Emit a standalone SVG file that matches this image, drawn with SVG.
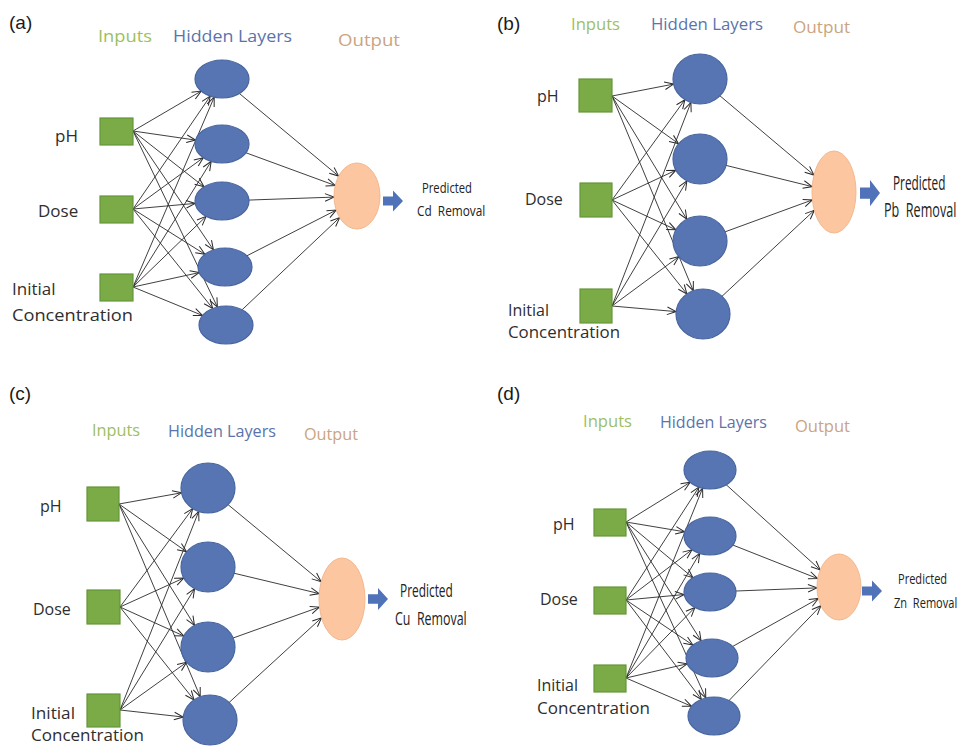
<svg xmlns="http://www.w3.org/2000/svg" width="960" height="746" viewBox="0 0 960 746">
  <defs>
    <style>
      .tag { font-family: "Liberation Sans", Arial, sans-serif; font-size: 19px; fill: #1a1a1a; }
      .hd { font-family: "Open Sans", "Noto Sans", sans-serif; }
      .h-in { fill: #9dbf5f; }
      .h-hid { fill: #5a74ab; }
      .h-out { fill: #caa480; }
      .lbl { font-family: "Open Sans", "Noto Sans", sans-serif; fill: #2e2e2e; }
      .res { font-family: "Open Sans", "Noto Sans", sans-serif; fill: #222222; }
      .inp { fill: #7aab47; stroke: #65963a; stroke-width: 1.2; }
      .hid { fill: #5775b3; stroke: #48659f; stroke-width: 1.2; }
      .out { fill: #fbc6a0; stroke: #f3b88e; stroke-width: 1; }
      .cn line { stroke: #2a2a2a; stroke-width: 0.9; marker-end: url(#tip); }
      .blk { fill: #4f72b8; }
    </style>
    <marker id="tip" markerUnits="userSpaceOnUse" markerWidth="12" markerHeight="10" viewBox="0 0 12 10" refX="10" refY="5" orient="auto">
      <path d="M1,1.2 L10,5 L1,8.8" fill="none" stroke="#2a2a2a" stroke-width="1"/>
    </marker>
    <path id="blockArrow" d="M0,-4.5 H10 V-10.5 L20,0 L10,10.5 V4.5 H0 Z"/>
  </defs>

  <rect width="960" height="746" fill="#ffffff"/>

  <!-- ===== (a) Cd removal: 3 inputs, 5 hidden ===== -->
  <g id="panel-a">
    <text class="tag" x="9" y="29">(a)</text>
    <text class="hd h-in" x="98" y="42" font-size="17" textLength="54" lengthAdjust="spacingAndGlyphs">Inputs</text>
    <text class="hd h-hid" x="173" y="42" font-size="17" textLength="119" lengthAdjust="spacingAndGlyphs">Hidden Layers</text>
    <text class="hd h-out" x="338" y="46" font-size="17" textLength="62" lengthAdjust="spacingAndGlyphs">Output</text>

    <g id="a-connectors" class="cn">
      <line x1="133" y1="131" x2="201.2" y2="91.1"/>
      <line x1="133" y1="131" x2="195.6" y2="140.1"/>
      <line x1="133" y1="131" x2="204.0" y2="186.8"/>
      <line x1="133" y1="131" x2="213.4" y2="249.8"/>
      <line x1="133" y1="131" x2="217.4" y2="307.0"/>
      <line x1="133" y1="209" x2="210.3" y2="96.1"/>
      <line x1="133" y1="209" x2="203.3" y2="157.7"/>
      <line x1="133" y1="209" x2="195.2" y2="203.4"/>
      <line x1="133" y1="209" x2="204.9" y2="254.3"/>
      <line x1="133" y1="209" x2="212.7" y2="308.4"/>
      <line x1="133" y1="287" x2="214.2" y2="97.2"/>
      <line x1="133" y1="287" x2="211.2" y2="161.4"/>
      <line x1="133" y1="287" x2="206.1" y2="216.4"/>
      <line x1="133" y1="287" x2="199.2" y2="272.6"/>
      <line x1="133" y1="287" x2="202.6" y2="315.5"/>
      <line x1="222" y1="79" x2="338.6" y2="176.1"/>
      <line x1="222" y1="144" x2="335.2" y2="185.5"/>
      <line x1="222" y1="201" x2="334.0" y2="197.1"/>
      <line x1="225" y1="267" x2="336.2" y2="210.1"/>
      <line x1="226" y1="325" x2="339.6" y2="217.6"/>
    </g>

    <g id="a-in-ph"><rect class="inp" x="100" y="118" width="33" height="27"/><text class="lbl" x="55" y="142" font-size="17">pH</text></g>
    <g id="a-in-dose"><rect class="inp" x="100" y="196" width="33" height="27"/><text class="lbl" x="38" y="217" font-size="17">Dose</text></g>
    <g id="a-in-conc"><rect class="inp" x="100" y="274" width="33" height="27"/><text class="lbl" x="12" y="295" font-size="17">Initial</text><text class="lbl" x="12" y="321" font-size="17" textLength="121" lengthAdjust="spacingAndGlyphs">Concentration</text></g>
    <g id="a-h1"><ellipse class="hid" cx="222" cy="79" rx="27" ry="19"/></g>
    <g id="a-h2"><ellipse class="hid" cx="222" cy="144" rx="27" ry="19"/></g>
    <g id="a-h3"><ellipse class="hid" cx="222" cy="201" rx="27" ry="19"/></g>
    <g id="a-h4"><ellipse class="hid" cx="225" cy="267" rx="27" ry="19"/></g>
    <g id="a-h5"><ellipse class="hid" cx="226" cy="325" rx="27" ry="19"/></g>
    <g id="a-out"><ellipse class="out" cx="357" cy="196" rx="23" ry="33"/></g>
    <g id="a-result">
      <use href="#blockArrow" class="blk" transform="translate(383,201)"/>
      <text class="res" font-size="15" transform="translate(422,193) scale(0.75,1)">Predicted</text>
      <text class="res" font-size="15" transform="translate(417,216) scale(0.79,1)">Cd&#160; Removal</text>
    </g>
  </g>

  <!-- ===== (b) Pb removal: 3 inputs, 4 hidden ===== -->
  <g id="panel-b">
    <text class="tag" x="497" y="30">(b)</text>
    <text class="hd h-in" x="571" y="30" font-size="16" textLength="49" lengthAdjust="spacingAndGlyphs">Inputs</text>
    <text class="hd h-hid" x="651" y="30" font-size="16" textLength="112" lengthAdjust="spacingAndGlyphs">Hidden Layers</text>
    <text class="hd h-out" x="793" y="33" font-size="16" textLength="57" lengthAdjust="spacingAndGlyphs">Output</text>

    <g id="b-connectors" class="cn">
      <line x1="612" y1="96" x2="673.6" y2="84.1"/>
      <line x1="612" y1="96" x2="678.6" y2="143.7"/>
      <line x1="612" y1="96" x2="686.8" y2="219.2"/>
      <line x1="612" y1="96" x2="693.3" y2="290.7"/>
      <line x1="612" y1="200" x2="684.9" y2="99.7"/>
      <line x1="612" y1="200" x2="675.9" y2="170.2"/>
      <line x1="612" y1="200" x2="675.9" y2="229.8"/>
      <line x1="612" y1="200" x2="686.9" y2="293.9"/>
      <line x1="612" y1="306" x2="690.9" y2="102.5"/>
      <line x1="612" y1="306" x2="686.9" y2="180.9"/>
      <line x1="612" y1="306" x2="678.9" y2="256.6"/>
      <line x1="612" y1="306" x2="676.1" y2="311.6"/>
      <line x1="700" y1="79" x2="814.0" y2="175.1"/>
      <line x1="700" y1="159" x2="812.2" y2="186.6"/>
      <line x1="700" y1="241" x2="812.4" y2="199.9"/>
      <line x1="703" y1="314" x2="814.3" y2="210.3"/>
    </g>

    <g id="b-in-ph"><rect class="inp" x="579" y="79" width="33" height="33"/><text class="lbl" x="537" y="102" font-size="16">pH</text></g>
    <g id="b-in-dose"><rect class="inp" x="580" y="183" width="32" height="34"/><text class="lbl" x="525" y="205" font-size="16">Dose</text></g>
    <g id="b-in-conc"><rect class="inp" x="580" y="289" width="32" height="34"/><text class="lbl" x="508" y="316" font-size="16">Initial</text><text class="lbl" x="508" y="338" font-size="16" textLength="112" lengthAdjust="spacingAndGlyphs">Concentration</text></g>
    <g id="b-h1"><ellipse class="hid" cx="700" cy="79" rx="27" ry="25"/></g>
    <g id="b-h2"><ellipse class="hid" cx="700" cy="159" rx="27" ry="25"/></g>
    <g id="b-h3"><ellipse class="hid" cx="700" cy="241" rx="27" ry="25"/></g>
    <g id="b-h4"><ellipse class="hid" cx="703" cy="314" rx="27" ry="25"/></g>
    <g id="b-out"><ellipse class="out" cx="834" cy="192" rx="22" ry="41"/></g>
    <g id="b-result">
      <use href="#blockArrow" class="blk" transform="translate(860,193) scale(1,1.25)"/>
      <text class="res" font-size="20" transform="translate(893,190) scale(0.59,1)">Predicted</text>
      <text class="res" font-size="20" transform="translate(884,217) scale(0.63,1)">Pb&#160; Removal</text>
    </g>
  </g>

  <!-- ===== (c) Cu removal: 3 inputs, 4 hidden ===== -->
  <g id="panel-c">
    <text class="tag" x="9" y="400">(c)</text>
    <text class="hd h-in" x="92" y="436" font-size="16" textLength="48" lengthAdjust="spacingAndGlyphs">Inputs</text>
    <text class="hd h-hid" x="168" y="437" font-size="16" textLength="108" lengthAdjust="spacingAndGlyphs">Hidden Layers</text>
    <text class="hd h-out" x="304" y="440" font-size="16" textLength="54" lengthAdjust="spacingAndGlyphs">Output</text>

    <g id="c-connectors" class="cn">
      <line x1="119" y1="504" x2="181.5" y2="492.8"/>
      <line x1="119" y1="504" x2="186.6" y2="551.8"/>
      <line x1="119" y1="504" x2="194.5" y2="625.3"/>
      <line x1="119" y1="504" x2="200.2" y2="696.7"/>
      <line x1="120" y1="607" x2="192.7" y2="508.6"/>
      <line x1="120" y1="607" x2="183.8" y2="578.0"/>
      <line x1="120" y1="607" x2="183.8" y2="636.0"/>
      <line x1="120" y1="607" x2="194.0" y2="699.9"/>
      <line x1="120" y1="710" x2="198.7" y2="511.5"/>
      <line x1="120" y1="710" x2="194.6" y2="588.7"/>
      <line x1="120" y1="710" x2="186.6" y2="662.3"/>
      <line x1="120" y1="710" x2="183.2" y2="717.0"/>
      <line x1="208" y1="488" x2="321.1" y2="581.7"/>
      <line x1="208" y1="567" x2="319.2" y2="593.6"/>
      <line x1="208" y1="647" x2="319.4" y2="607.1"/>
      <line x1="210" y1="720" x2="321.5" y2="617.8"/>
    </g>

    <g id="c-in-ph"><rect class="inp" x="87" y="487" width="32" height="34"/><text class="lbl" x="40" y="512" font-size="16">pH</text></g>
    <g id="c-in-dose"><rect class="inp" x="87" y="590" width="33" height="34"/><text class="lbl" x="33" y="615" font-size="16">Dose</text></g>
    <g id="c-in-conc"><rect class="inp" x="87" y="694" width="33" height="33"/><text class="lbl" x="31" y="719" font-size="15.5" textLength="44" lengthAdjust="spacingAndGlyphs">Initial</text><text class="lbl" x="31" y="741" font-size="15.5" textLength="113" lengthAdjust="spacingAndGlyphs">Concentration</text></g>
    <g id="c-h1"><ellipse class="hid" cx="208" cy="488" rx="27" ry="25"/></g>
    <g id="c-h2"><ellipse class="hid" cx="208" cy="567" rx="27" ry="25"/></g>
    <g id="c-h3"><ellipse class="hid" cx="208" cy="647" rx="27" ry="25"/></g>
    <g id="c-h4"><ellipse class="hid" cx="210" cy="720" rx="27" ry="25"/></g>
    <g id="c-out"><ellipse class="out" cx="342" cy="599" rx="23" ry="41"/></g>
    <g id="c-result">
      <use href="#blockArrow" class="blk" transform="translate(368,599) scale(1,1.05)"/>
      <text class="res" font-size="18" transform="translate(400,597) scale(0.66,1)">Predicted</text>
      <text class="res" font-size="18" transform="translate(395,625) scale(0.69,1)">Cu&#160; Removal</text>
    </g>
  </g>

  <!-- ===== (d) Zn removal: 3 inputs, 5 hidden ===== -->
  <g id="panel-d">
    <text class="tag" x="497" y="400">(d)</text>
    <text class="hd h-in" x="583" y="427" font-size="16" textLength="49" lengthAdjust="spacingAndGlyphs">Inputs</text>
    <text class="hd h-hid" x="660" y="428" font-size="16" textLength="107" lengthAdjust="spacingAndGlyphs">Hidden Layers</text>
    <text class="hd h-out" x="795" y="432" font-size="16" textLength="55" lengthAdjust="spacingAndGlyphs">Output</text>

    <g id="d-connectors" class="cn">
      <line x1="626" y1="522" x2="690.2" y2="482.3"/>
      <line x1="626" y1="522" x2="684.6" y2="531.8"/>
      <line x1="626" y1="522" x2="692.9" y2="577.7"/>
      <line x1="626" y1="522" x2="701.1" y2="640.8"/>
      <line x1="626" y1="522" x2="705.8" y2="698.0"/>
      <line x1="626" y1="600" x2="698.9" y2="487.2"/>
      <line x1="626" y1="600" x2="692.0" y2="549.7"/>
      <line x1="626" y1="600" x2="684.2" y2="594.5"/>
      <line x1="626" y1="600" x2="692.9" y2="645.1"/>
      <line x1="626" y1="600" x2="701.4" y2="699.4"/>
      <line x1="626" y1="678" x2="702.6" y2="488.2"/>
      <line x1="626" y1="678" x2="699.7" y2="553.4"/>
      <line x1="626" y1="678" x2="694.9" y2="607.5"/>
      <line x1="626" y1="678" x2="687.2" y2="663.8"/>
      <line x1="626" y1="678" x2="691.6" y2="706.3"/>
      <line x1="710" y1="470" x2="820.2" y2="569.9"/>
      <line x1="710" y1="536" x2="817.7" y2="578.6"/>
      <line x1="710" y1="592" x2="817.0" y2="587.9"/>
      <line x1="712" y1="658" x2="818.4" y2="598.5"/>
      <line x1="714" y1="716" x2="820.9" y2="605.7"/>
    </g>

    <g id="d-in-ph"><rect class="inp" x="594" y="509" width="32" height="27"/><text class="lbl" x="553" y="530" font-size="16">pH</text></g>
    <g id="d-in-dose"><rect class="inp" x="594" y="587" width="32" height="27"/><text class="lbl" x="540" y="605" font-size="16">Dose</text></g>
    <g id="d-in-conc"><rect class="inp" x="594" y="665" width="32" height="27"/><text class="lbl" x="537" y="691" font-size="16">Initial</text><text class="lbl" x="537" y="714" font-size="16" textLength="113" lengthAdjust="spacingAndGlyphs">Concentration</text></g>
    <g id="d-h1"><ellipse class="hid" cx="710" cy="470" rx="26" ry="19"/></g>
    <g id="d-h2"><ellipse class="hid" cx="710" cy="536" rx="26" ry="19"/></g>
    <g id="d-h3"><ellipse class="hid" cx="710" cy="592" rx="26" ry="19"/></g>
    <g id="d-h4"><ellipse class="hid" cx="712" cy="658" rx="26" ry="19"/></g>
    <g id="d-h5"><ellipse class="hid" cx="714" cy="716" rx="26" ry="19"/></g>
    <g id="d-out"><ellipse class="out" cx="839" cy="587" rx="22" ry="33"/></g>
    <g id="d-result">
      <use href="#blockArrow" class="blk" transform="translate(862,591)"/>
      <text class="res" font-size="14" transform="translate(898,584) scale(0.79,1)">Predicted</text>
      <text class="res" font-size="14" transform="translate(894,608) scale(0.79,1)">Zn&#160; Removal</text>
    </g>
  </g>
</svg>
